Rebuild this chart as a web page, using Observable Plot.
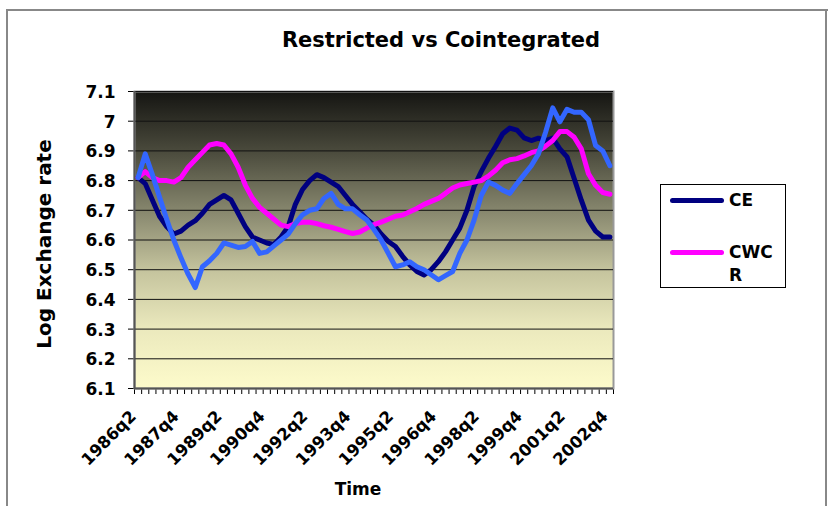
<!DOCTYPE html>
<html>
<head>
<meta charset="utf-8">
<script src="https://cdn.jsdelivr.net/npm/d3@7"></script>
<script src="https://cdn.jsdelivr.net/npm/@observablehq/plot@0.6"></script>
<style>
  body { margin: 0; background: #fff; }
  #chart { position: relative; width: 828px; height: 506px; overflow: hidden;
           font-family: "DejaVu Sans", sans-serif; font-weight: bold; color: #000; }
  #chart svg { position: absolute; left: 0; top: 0; }
  .border-top { position: absolute; left: 7px; top: 9px; width: 821px; height: 2px; background: #888; }
  .border-left { position: absolute; left: 6px; top: 9px; width: 2px; height: 497px; background: #888; }
  .border-right { position: absolute; left: 825px; top: 9px; width: 2px; height: 497px; background: #888; }
  .title { position: absolute; left: 241px; width: 400px; top: 27px; text-align: center;
           font-size: 21px; line-height: 26px; }
  .legend { position: absolute; left: 660px; top: 184px; width: 124px; height: 102px;
            border: 1.5px solid #000; background: #fff; }
  .legend .swatch { position: absolute; left: 9px; width: 54px; height: 5px; border-radius: 3px; }
  .legend .label { position: absolute; left: 68px; font-size: 17px; line-height: 23px; width: 52px; }
</style>
</head>
<body>
<div id="chart">
  <div class="border-top"></div>
  <div class="border-left"></div>
  <div class="border-right"></div>
  <div class="title">Restricted vs Cointegrated</div>
  <div class="legend" id="legend"></div>
</div>
<script>
// Quarterly observations, 1986q2 to 2002q4
const quarters = [
  "1986q2","1986q3","1986q4",
  "1987q1","1987q2","1987q3","1987q4",
  "1988q1","1988q2","1988q3","1988q4",
  "1989q1","1989q2","1989q3","1989q4",
  "1990q1","1990q2","1990q3","1990q4",
  "1991q1","1991q2","1991q3","1991q4",
  "1992q1","1992q2","1992q3","1992q4",
  "1993q1","1993q2","1993q3","1993q4",
  "1994q1","1994q2","1994q3","1994q4",
  "1995q1","1995q2","1995q3","1995q4",
  "1996q1","1996q2","1996q3","1996q4",
  "1997q1","1997q2","1997q3","1997q4",
  "1998q1","1998q2","1998q3","1998q4",
  "1999q1","1999q2","1999q3","1999q4",
  "2000q1","2000q2","2000q3","2000q4",
  "2001q1","2001q2","2001q3","2001q4",
  "2002q1","2002q2","2002q3","2002q4"
];

// Labelled categories on the time axis
const xTickLabels = ["1986q2","1987q4","1989q2","1990q4","1992q2","1993q4",
                     "1995q2","1996q4","1998q2","1999q4","2001q2","2002q4"];

// Value axis ticks
const yTicks = [6.1, 6.2, 6.3, 6.4, 6.5, 6.6, 6.7, 6.8, 6.9, 7, 7.1];

// CE: cointegrating-equation fitted log exchange rate
const ce = [
  6.81, 6.79, 6.735, 6.68, 6.645, 6.62, 6.63, 6.65, 6.665, 6.69,
  6.72, 6.735, 6.75, 6.735, 6.69, 6.645, 6.61, 6.60, 6.59, 6.585,
  6.61, 6.645, 6.72, 6.77, 6.80, 6.82, 6.81, 6.795, 6.78, 6.75,
  6.72, 6.695, 6.67, 6.65, 6.62, 6.595, 6.578, 6.545, 6.516, 6.494,
  6.482, 6.50, 6.527, 6.56, 6.60, 6.64, 6.70, 6.78, 6.83, 6.875,
  6.915, 6.958, 6.977, 6.97, 6.944, 6.935, 6.943, 6.935, 6.943, 6.907,
  6.88, 6.807, 6.734, 6.667, 6.63, 6.61, 6.61
];

// CWCR: restricted model
const cwcr = [
  6.81, 6.83, 6.81, 6.80, 6.80, 6.795, 6.81, 6.845, 6.87, 6.895,
  6.92, 6.925, 6.92, 6.89, 6.845, 6.785, 6.74, 6.71, 6.69, 6.67,
  6.65, 6.645, 6.655, 6.66, 6.66, 6.655, 6.648, 6.643, 6.636, 6.628,
  6.622, 6.627, 6.64, 6.652, 6.66, 6.67, 6.68, 6.684, 6.695, 6.706,
  6.72, 6.73, 6.74, 6.757, 6.775, 6.785, 6.79, 6.795, 6.80, 6.815,
  6.835, 6.86, 6.87, 6.874, 6.883, 6.894, 6.90, 6.916, 6.935, 6.965,
  6.965, 6.946, 6.907, 6.823, 6.784, 6.76, 6.754
];

// Actual log exchange rate
const actual = [
  6.81, 6.89, 6.82, 6.745, 6.67, 6.60, 6.54, 6.485, 6.44, 6.51,
  6.53, 6.555, 6.59, 6.583, 6.575, 6.578, 6.595, 6.555, 6.56, 6.58,
  6.60, 6.62, 6.655, 6.685, 6.70, 6.705, 6.74, 6.757, 6.72, 6.705,
  6.705, 6.685, 6.667, 6.635, 6.60, 6.555, 6.51, 6.516, 6.527, 6.51,
  6.50, 6.483, 6.466, 6.48, 6.494, 6.555, 6.60, 6.667, 6.75, 6.795,
  6.784, 6.768, 6.757, 6.79, 6.82, 6.85, 6.89, 6.963, 7.045, 6.998,
  7.04, 7.03, 7.03, 7.005, 6.918, 6.90, 6.85
];

const colors = { ce: "#000080", cwcr: "#ff00ff", actual: "#3366ff" };

const labelIdx = xTickLabels.map(q => quarters.indexOf(q));
// category boundaries carry the small tick marks
const boundaries = d3.range(-0.5, quarters.length, 1);

const lineOpts = { x: (d, i) => i, y: d => d, strokeWidth: 5,
                   strokeLinejoin: "round", strokeLinecap: "round" };

const svg = Plot.plot({
  width: 828,
  height: 506,
  marginLeft: 134,
  marginRight: 215,
  marginTop: 91,
  marginBottom: 118,
  style: { fontFamily: "DejaVu Sans, sans-serif", fontWeight: "bold", fontSize: "17px",
           color: "#000", background: "transparent", overflow: "visible" },
  x: { type: "linear", domain: [-0.5, quarters.length - 0.5], ticks: boundaries,
       tickFormat: () => "", tickSize: 6, label: null },
  y: { domain: [6.1, 7.1], ticks: yTicks, tickFormat: () => "",
       tickSize: 6, label: null },
  marks: [
    Plot.frame({ fill: "url(#plotBg)", stroke: "#999", strokeWidth: 2 }),
    Plot.ruleY(yTicks, { stroke: "#111", strokeWidth: 1 }),
    Plot.ruleX([-0.5], { stroke: "#555", strokeWidth: 2 }),
    Plot.ruleY([6.1], { stroke: "#555", strokeWidth: 2 }),
    Plot.line(ce, { ...lineOpts, stroke: colors.ce }),
    Plot.line(cwcr, { ...lineOpts, stroke: colors.cwcr }),
    Plot.line(actual, { ...lineOpts, stroke: colors.actual }),
    // value-axis tick labels
    Plot.text(yTicks, { y: d => d, frameAnchor: "left", textAnchor: "end", text: d => String(d),
                        dx: -19, dy: 1, fontSize: 17 }),
    // time-axis tick labels
    Plot.text(labelIdx, { x: d => d, frameAnchor: "bottom", text: d => quarters[d],
                          rotate: -45, textAnchor: "end", dx: -1, dy: 29, fontSize: 16.5 }),
    Plot.text(["Log Exchange rate"], { frameAnchor: "left", textAnchor: "middle", dx: -90, dy: 4,
                                       rotate: -90, fontSize: 20 }),
    Plot.text(["Time"], { frameAnchor: "bottom", textAnchor: "middle", dx: -16, dy: 106, fontSize: 17 })
  ]
});

// vertical gradient behind the plotting area
const defs = d3.select(svg).insert("defs", ":first-child");
const grad = defs.append("linearGradient")
  .attr("id", "plotBg").attr("x1", 0).attr("y1", 0).attr("x2", 0).attr("y2", 1);
[[0, "#151512"], [0.2, "#4a4a3c"], [0.4, "#86866d"], [0.6, "#c4c39d"],
 [0.8, "#ebe9bd"], [1, "#fdfbcb"]].forEach(([o, c]) =>
  grad.append("stop").attr("offset", o).attr("stop-color", c));
d3.select(svg).selectAll("rect[aria-label=frame], g[aria-label=frame] rect")
  .attr("fill", "url(#plotBg)");

document.getElementById("chart").insertBefore(svg, document.getElementById("chart").firstChild);

// legend
const legend = document.getElementById("legend");
[{ key: "ce", text: "CE", top: 13 }, { key: "cwcr", text: "CWC R", top: 65 }].forEach(e => {
  const sw = document.createElement("div");
  sw.className = "swatch";
  sw.style.top = e.top + "px";
  sw.style.background = colors[e.key];
  legend.appendChild(sw);
  const lb = document.createElement("div");
  lb.className = "label";
  lb.style.top = (e.top - 9) + "px";
  lb.textContent = e.text;
  legend.appendChild(lb);
});
</script>
</body>
</html>
